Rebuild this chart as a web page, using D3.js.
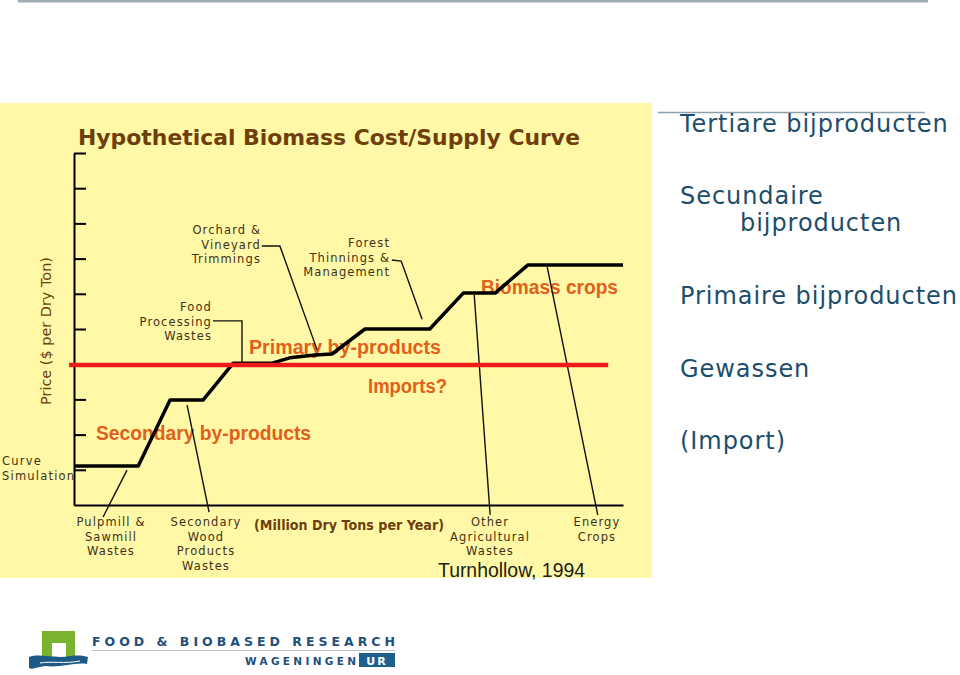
<!DOCTYPE html>
<html>
<head>
<meta charset="utf-8">
<script src="https://cdn.jsdelivr.net/npm/d3@7"></script>
<style>
  body { margin: 0; background: #fff; }
  svg { display: block; }
</style>
</head>
<body>
<div id="chart"></div>
<script>
// hypothetical biomass cost/supply curve (x: million dry tons, y: price units)
var supplyX = [0, 11.7, 17.5, 23.5, 29.0, 36.1, 39.3, 43.9, 47.0, 53.0, 64.8, 70.9, 76.7, 82.7, 100];
var supplyY = [1.11, 1.11, 2.98, 2.98, 4.03, 4.03, 4.18, 4.26, 4.29, 5.0, 5.0, 6.02, 6.02, 6.82, 6.82];
var priceTicks = [1, 2, 3, 4, 5, 6, 7, 8, 9, 10];
var importPrice = 3.98;
var importRange = [-0.9, 97.3];

// feedstock names and where their leader lines point on the curve
var sourceNames = ["Pulpmill &|Sawmill|Wastes", "Secondary|Wood|Products|Wastes", "Food|Processing|Wastes",
  "Orchard &|Vineyard|Trimmings", "Forest|Thinnings &|Management", "Other|Agricultural|Wastes", "Energy|Crops"];
var leaderX = [[9.65, 5.3], [20.6, 24.6], [25.3, 30.6, 30.6], [34.2, 37.5, 44.3], [57.9, 59.6, 63.4], [72.9, 75.8], [86.2, 95.4]];
var leaderY = [[0.99, -0.34], [2.84, -0.2], [5.23, 5.23, 4.03], [7.36, 7.36, 4.4], [6.96, 6.93, 5.28], [5.97, -0.28], [6.76, -0.28]];

var groupNames = ["Primary by-products", "Secondary by-products", "Imports?", "Biomass crops"];
var dutchLabels = ["Tertiare bijproducten", "Secundaire|bijproducten", "Primaire bijproducten", "Gewassen", "(Import)"];

var width = 960, height = 675;
var svg = d3.select("#chart").append("svg")
  .attr("width", width)
  .attr("height", height);

// slide decoration
svg.append("rect").attr("x", 18).attr("y", 0).attr("width", 910).attr("height", 2.5).attr("fill", "#9eadb0");

// yellow picture panel
svg.append("rect")
  .attr("x", 0).attr("y", 103)
  .attr("width", 652).attr("height", 475)
  .attr("fill", "#fff8a6");

var x = d3.scaleLinear().domain([0, 100]).range([74, 623]);
var y = d3.scaleLinear().domain([0, 10]).range([505, 153]);

var brown = "#6e3f0c", small = "#3f3216", orange = "#e0601c";

svg.append("text")
  .attr("x", 78).attr("y", 145)
  .attr("textLength", 502).attr("lengthAdjust", "spacingAndGlyphs")
  .style("font", "bold 21px 'DejaVu Sans', sans-serif")
  .attr("fill", brown)
  .text("Hypothetical Biomass Cost/Supply Curve");

// orange group labels (under the lines)
var groupPos = [[249, 354, 192], [96, 440, 215], [368, 393, 79], [481, 294, 137]];
svg.selectAll(".grp").data(groupNames).enter().append("text")
  .attr("class", "grp")
  .attr("x", function(d, i) { return groupPos[i][0]; })
  .attr("y", function(d, i) { return groupPos[i][1]; })
  .attr("textLength", function(d, i) { return groupPos[i][2]; })
  .attr("lengthAdjust", "spacingAndGlyphs")
  .style("font", "bold 19.5px 'Liberation Sans', Arial, sans-serif")
  .attr("fill", orange)
  .text(function(d) { return d; });

// axes
var yAxis = svg.append("g").attr("transform", "translate(" + x(0) + ",0)")
  .call(d3.axisRight(y).tickValues(priceTicks).tickSize(12).tickSizeOuter(0).tickFormat(""));
var xAxis = svg.append("g").attr("transform", "translate(0," + y(0) + ")")
  .call(d3.axisBottom(x).tickValues([]).tickSizeOuter(0));
svg.selectAll(".domain, .tick line").attr("stroke", "#000").attr("stroke-width", 2);

svg.append("text")
  .attr("transform", "translate(51,331) rotate(-90)")
  .attr("text-anchor", "middle")
  .attr("textLength", 148).attr("lengthAdjust", "spacingAndGlyphs")
  .style("font", "14px 'DejaVu Sans', sans-serif")
  .attr("fill", brown)
  .text("Price ($ per Dry Ton)");

svg.append("text")
  .attr("x", 254).attr("y", 530)
  .attr("textLength", 190).attr("lengthAdjust", "spacingAndGlyphs")
  .style("font", "bold 14.5px 'DejaVu Sans', sans-serif")
  .attr("fill", brown)
  .text("(Million Dry Tons per Year)");

// supply curve
var line = d3.line()
  .x(function(d) { return x(d[0]); })
  .y(function(d) { return y(d[1]); });

svg.append("path")
  .datum(d3.zip(supplyX, supplyY))
  .attr("d", line)
  .attr("fill", "none")
  .attr("stroke", "#000")
  .attr("stroke-width", 3.5)
  .attr("stroke-linejoin", "round");

// leader lines
svg.selectAll(".leader").data(leaderX).enter().append("path")
  .attr("class", "leader")
  .attr("d", function(d, i) { return line(d3.zip(d, leaderY[i])); })
  .attr("fill", "none")
  .attr("stroke", "#111")
  .attr("stroke-width", 1.4);

// import price line
svg.append("line")
  .attr("x1", x(importRange[0])).attr("x2", x(importRange[1]))
  .attr("y1", y(importPrice)).attr("y2", y(importPrice))
  .attr("stroke", "#ee1b1b")
  .attr("stroke-width", 4.5);

// small feedstock labels
var srcPos = [[111, 526, "middle"], [206, 526, "middle"], [212, 311, "end"], [261, 234, "end"],
  [390, 247, "end"], [490, 526, "middle"], [597, 526, "middle"]];
var src = svg.selectAll(".src").data(sourceNames).enter().append("text")
  .attr("class", "src")
  .attr("text-anchor", function(d, i) { return srcPos[i][2]; })
  .style("font", "11.5px 'DejaVu Sans', sans-serif")
  .style("letter-spacing", "1.1px")
  .attr("fill", small);
src.each(function(d, i) {
  var t = d3.select(this);
  d.split("|").forEach(function(s, k) {
    t.append("tspan").attr("x", srcPos[i][0]).attr("y", srcPos[i][1] + k * 14.6).text(s);
  });
});

svg.append("text")
  .style("font", "11.5px 'DejaVu Sans', sans-serif")
  .style("letter-spacing", "1.2px")
  .attr("fill", small)
  .selectAll("tspan").data(["Curve", "Simulation"]).enter().append("tspan")
  .attr("x", 2).attr("y", function(d, i) { return 465 + i * 15; })
  .text(function(d) { return d; });

svg.append("text")
  .attr("x", 438).attr("y", 577)
  .attr("textLength", 147).attr("lengthAdjust", "spacingAndGlyphs")
  .style("font", "20px 'Liberation Sans Narrow', 'Liberation Sans', sans-serif")
  .attr("fill", "#1c1c1c")
  .text("Turnhollow, 1994");

// right hand Dutch legend
svg.append("line").attr("x1", 658).attr("x2", 925).attr("y1", 112.5).attr("y2", 112.5)
  .attr("stroke", "#8aa0ac").attr("stroke-width", 1.5);
var dutchY = [132, 204, 304, 377, 449];
var dl = svg.selectAll(".nl").data(dutchLabels).enter().append("text")
  .attr("class", "nl")
  .style("font", "24px 'DejaVu Sans', Verdana, sans-serif")
  .style("letter-spacing", "0.95px")
  .attr("fill", "#1c4d6b");
dl.each(function(d, i) {
  var t = d3.select(this);
  d.split("|").forEach(function(s, k) {
    t.append("tspan").attr("x", 680 + k * 60).attr("y", dutchY[i] + k * 27).text(s);
  });
});

// footer logo
var logo = svg.append("g");
logo.append("path")
  .attr("d", "M42,631 H75 V660 H66 V643 H52 V660 H42 Z")
  .attr("fill", "#7ab32e");
logo.append("path")
  .attr("d", "M29,657 C40,653 55,659 70,656 C78,655 85,656 88,657 L87,664 C75,662 60,668 45,666 C38,667 32,670 29,668 Z")
  .attr("fill", "#1e5a86");
logo.append("path")
  .attr("d", "M40,663 C52,661 64,664 80,661")
  .attr("fill", "none").attr("stroke", "#fff").attr("stroke-width", 1);
logo.append("text")
  .attr("x", 92).attr("y", 646)
  .attr("textLength", 303).attr("lengthAdjust", "spacing")
  .style("font", "bold 12.5px 'DejaVu Sans', sans-serif")
  .attr("fill", "#1f4f7a")
  .text("FOOD & BIOBASED RESEARCH");
logo.append("line").attr("x1", 92).attr("x2", 395).attr("y1", 650.5).attr("y2", 650.5)
  .attr("stroke", "#b7c2cc").attr("stroke-width", 1);
logo.append("text")
  .attr("x", 245).attr("y", 665)
  .attr("textLength", 111).attr("lengthAdjust", "spacing")
  .style("font", "bold 10.5px 'DejaVu Sans', sans-serif")
  .attr("fill", "#1f4f7a")
  .text("WAGENINGEN");
logo.append("rect").attr("x", 359).attr("y", 653).attr("width", 36).attr("height", 14).attr("fill", "#1f5f8b");
logo.append("text")
  .attr("x", 377).attr("y", 665).attr("text-anchor", "middle")
  .style("font", "bold 11px 'DejaVu Sans', sans-serif")
  .style("letter-spacing", "2px")
  .attr("fill", "#fff")
  .text("UR");
</script>
</body>
</html>
